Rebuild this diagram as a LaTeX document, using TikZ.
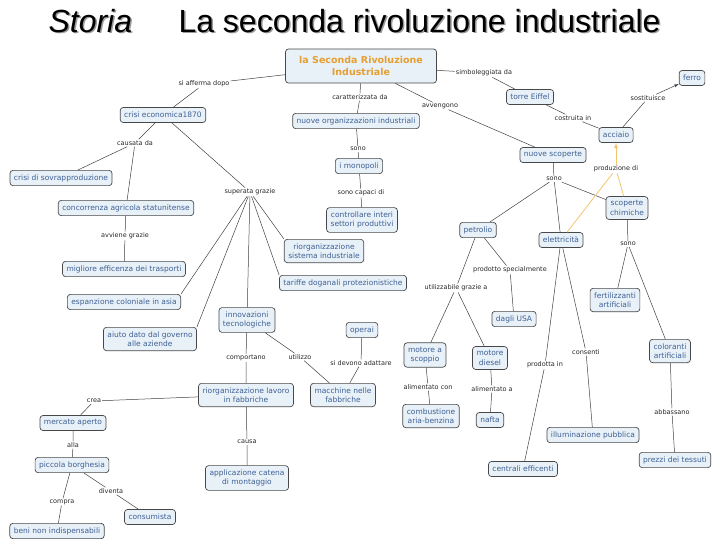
\documentclass[tikz,border=0pt]{standalone}
\usepackage{fontspec}
\setmainfont{DejaVu Sans}
\newfontfamily\titlefont{Liberation Sans}
\definecolor{cmapfill}{RGB}{232,241,248}
\definecolor{cmapborder}{RGB}{72,72,72}
\definecolor{cmaptext}{RGB}{62,96,148}
\definecolor{cmaporange}{RGB}{230,158,48}
\definecolor{cmapwire}{RGB}{242,196,110}
\tikzset{
	concept/.style={draw=cmapborder, fill=cmapfill, rounded corners=3pt, text=cmaptext, font=\fontsize{7.5}{9.5}\selectfont, align=center, inner xsep=4pt, inner ysep=4pt, minimum height=15pt, line width=0.7pt},
	phrase/.style={font=\fontsize{6.5}{8}\selectfont, text=black!85, inner sep=1pt},
	wire/.style={draw=black!75, line width=0.5pt},
	prodwire/.style={draw=cmapwire, line width=0.8pt}
}

\begin{document}
\begin{tikzpicture}[x=1pt,y=-1pt]
				\useasboundingbox (0,0) rectangle (728,546);
				\node[anchor=base west, text=black!40, font=\titlefont\fontsize{32}{36}\selectfont\itshape] at (46.5,33.5) {Storia};
				\node[anchor=base west, text=black!40, font=\titlefont\fontsize{32}{36}\selectfont] at (176.5,33.5) {La seconda rivoluzione industriale};
				\node[anchor=base west, font=\titlefont\fontsize{32}{36}\selectfont\itshape] (storia) at (45,32) {Storia};
				\node[anchor=base west, font=\titlefont\fontsize{32}{36}\selectfont] (titolo) at (175,32) {La seconda rivoluzione industriale};
				
				\node[concept, text=cmaporange, font=\fontsize{9.5}{12}\bfseries, minimum width=151pt, minimum height=34pt] (SRI) at (361,66) {la Seconda Rivoluzione\\Industriale};
				\node[concept] (crisi) at (163,115) {crisi economica1870};
				\node[concept] (sovr) at (61,178) {crisi di sovrapproduzione};
				\node[concept] (conc) at (126,208) {concorrenza agricola statunitense};
				\node[concept] (trasp) at (124,269) {migliore efficenza dei trasporti};
				\node[concept] (esp) at (124,302) {espanzione coloniale in asia};
				\node[concept] (aiuto) at (150,339) {aiuto dato dal governo\\alle aziende};
				\node[concept] (innov) at (247,320) {innovazioni\\tecnologiche};
				\node[concept] (riosis) at (324,251) {riorganizzazione\\sistema industriale};
				\node[concept] (tariffe) at (343,283) {tariffe doganali protezionistiche};
				\node[concept] (nuoveorg) at (356,121) {nuove organizzazioni industriali};
				\node[concept] (mono) at (359,166) {i monopoli};
				\node[concept] (contr) at (362,220) {controllare interi\\settori produttivi};
				\node[concept] (operai) at (362,330) {operai};
				\node[concept] (riolav) at (246,395) {riorganizzazione lavoro\\in fabbriche};
				\node[concept] (macch) at (343,395) {macchine nelle\\fabbriche};
				\node[concept] (catena) at (247,478) {applicazione catena\\di montaggio};
				\node[concept] (mercato) at (73,423) {mercato aperto};
				\node[concept] (borgh) at (72,465) {piccola borghesia};
				\node[concept] (beni) at (57,531) {beni non indispensabili};
				\node[concept] (consum) at (150,517) {consumista};
				\node[concept] (eiffel) at (530,97) {torre Eiffel};
				\node[concept] (acciaio) at (616,135) {acciaio};
				\node[concept] (ferro) at (692,78) {ferro};
				\node[concept] (scop) at (553,155) {nuove scoperte};
				\node[concept] (petrolio) at (478,230) {petrolio};
				\node[concept] (elettr) at (561,240) {elettricità};
				\node[concept] (chim) at (627,208) {scoperte\\chimiche};
				\node[concept] (fert) at (615,300) {fertilizzanti\\artificiali};
				\node[concept] (color) at (670,351) {coloranti\\artificiali};
				\node[concept] (prezzi) at (675,460) {prezzi dei tessuti};
				\node[concept] (usa) at (514,319) {dagli USA};
				\node[concept] (scoppio) at (425,355) {motore a\\scoppio};
				\node[concept] (diesel) at (490,358) {motore\\diesel};
				\node[concept] (benz) at (431,416) {combustione\\aria-benzina};
				\node[concept] (nafta) at (490,420) {nafta};
				\node[concept] (centrali) at (523,469) {centrali efficenti};
				\node[concept] (illum) at (593,435) {illuminazione pubblica};
				
				\node[phrase] (afferma) at (204,84) {si afferma dopo};
				\node[phrase] (caratt) at (360,97) {caratterizzata da};
				\node[phrase] (simbol) at (484,73) {simboleggiata da};
				\node[phrase] (avveng) at (440,106) {avvengono};
				\node[phrase] (causata) at (135,143) {causata da};
				\node[phrase] (superata) at (250,192) {superata grazie};
				\node[phrase] (avviene) at (125,236) {avviene grazie};
				\node[phrase] (sono1) at (358,149) {sono};
				\node[phrase] (capaci) at (361,193) {sono capaci di};
				\node[phrase] (comport) at (246,358) {comportano};
				\node[phrase] (utilizzo) at (300,357) {utilizzo};
				\node[phrase] (adattare) at (361,363) {si devono adattare};
				\node[phrase] (crea) at (94,401) {crea};
				\node[phrase] (causa) at (247,442) {causa};
				\node[phrase] (alla) at (73,445) {alla};
				\node[phrase] (compra) at (62,502) {compra};
				\node[phrase] (diventa) at (111,491) {diventa};
				\node[phrase] (costruita) at (573,118) {costruita in};
				\node[phrase] (sostit) at (648,98) {sostituisce};
				\node[phrase] (sono2) at (554,179) {sono};
				\node[phrase] (produz) at (616,169) {produzione di};
				\node[phrase] (sono3) at (628,244) {sono};
				\node[phrase] (abbass) at (672,412) {abbassano};
				\node[phrase] (utilizz) at (456,288) {utilizzabile grazie a};
				\node[phrase] (prodotto) at (510,270) {prodotto specialmente};
				\node[phrase] (alimcon) at (428,387) {alimentato con};
				\node[phrase] (alima) at (492,389) {alimentato a};
				\node[phrase] (prodotta) at (545,365) {prodotta in};
				\node[phrase] (consenti) at (586,352) {consenti};
				
				\draw[wire] (SRI) -- (afferma) -- (crisi);
				\draw[wire] (SRI) -- (caratt) -- (nuoveorg);
				\draw[wire] (SRI) -- (simbol) -- (eiffel);
				\draw[wire] (SRI) -- (avveng) -- (scop);
				\draw[wire] (crisi) -- (causata) -- (sovr);
				\draw[wire] (causata) -- (conc);
				\draw[wire] (conc) -- (avviene) -- (trasp);
				\draw[wire] (crisi) -- (superata);
				\draw[wire] (superata) -- (esp.north east);
				\draw[wire] (superata) -- (aiuto.north east);
				\draw[wire] (superata) -- (innov);
				\draw[wire] (superata) -- (riosis.north west);
				\draw[wire] (superata) -- (tariffe.north west);
				\draw[wire] (nuoveorg) -- (sono1) -- (mono);
				\draw[wire] (mono) -- (capaci) -- (contr);
				\draw[wire] (innov) -- (comport) -- (riolav);
				\draw[wire] (innov) -- (utilizzo) -- (macch);
				\draw[wire] (operai) -- (adattare) -- (macch);
				\draw[wire] (riolav) -- (crea) -- (mercato);
				\draw[wire] (riolav) -- (causa) -- (catena);
				\draw[wire] (mercato) -- (alla) -- (borgh);
				\draw[wire] (borgh) -- (compra) -- (beni);
				\draw[wire] (borgh) -- (diventa) -- (consum);
				\draw[wire] (eiffel) -- (costruita) -- (acciaio);
				\draw[wire] (acciaio) -- (sostit);
				\draw[wire,-latex] (sostit) -- (ferro);
				\draw[wire] (scop) -- (sono2);
				\foreach \n in {petrolio,elettr,chim}
					\draw[wire] (sono2) -- (\n);
				\draw[prodwire] (elettr) -- (produz);
				\draw[prodwire] (chim) -- (produz);
				\draw[prodwire,-latex] (produz) -- (acciaio);
				\draw[wire] (chim) -- (sono3) -- (fert);
				\draw[wire] (sono3) -- (color);
				\draw[wire] (color) -- (abbass) -- (prezzi);
				\draw[wire] (petrolio) -- (utilizz) -- (scoppio);
				\draw[wire] (utilizz) -- (diesel);
				\draw[wire] (petrolio) -- (prodotto) -- (usa);
				\draw[wire] (scoppio) -- (alimcon) -- (benz);
				\draw[wire] (diesel) -- (alima) -- (nafta);
				\draw[wire] (elettr) -- (prodotta) -- (centrali);
				\draw[wire] (elettr) -- (consenti) -- (illum);
			\end{tikzpicture}
\end{document}
